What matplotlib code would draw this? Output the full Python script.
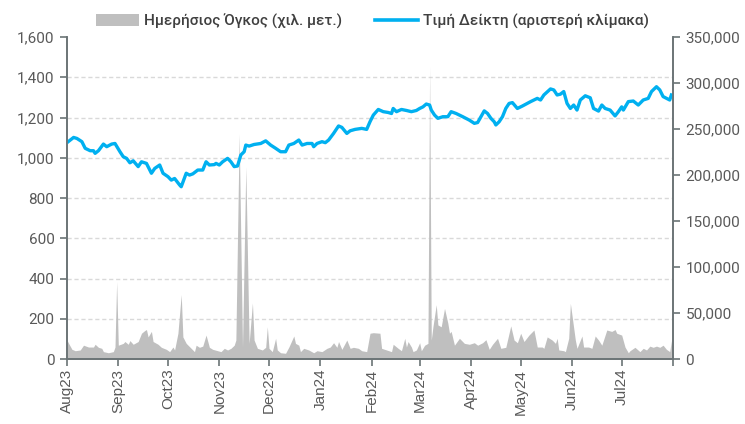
import matplotlib
matplotlib.use('Agg')
import matplotlib.pyplot as plt
import pandas as pd
from matplotlib.lines import Line2D
from matplotlib.patches import Patch
from matplotlib.ticker import FixedLocator, FuncFormatter

# index level (left scale)
idx_dates = [
    '2023-08-01', '2023-08-05', '2023-08-07', '2023-08-10', '2023-08-12', '2023-08-15',
    '2023-08-17', '2023-08-18', '2023-08-20', '2023-08-23', '2023-08-25', '2023-08-28',
    '2023-08-30', '2023-09-02', '2023-09-04', '2023-09-06', '2023-09-08', '2023-09-10',
    '2023-09-13', '2023-09-15', '2023-09-18', '2023-09-21', '2023-09-23', '2023-09-26',
    '2023-09-28', '2023-10-01', '2023-10-03', '2023-10-05', '2023-10-08', '2023-10-09',
    '2023-10-12', '2023-10-14', '2023-10-16', '2023-10-19', '2023-10-22', '2023-10-24',
    '2023-10-26', '2023-10-29', '2023-10-30', '2023-11-01', '2023-11-03', '2023-11-06',
    '2023-11-08', '2023-11-10', '2023-11-12', '2023-11-14', '2023-11-16', '2023-11-17',
    '2023-11-19', '2023-11-22', '2023-11-26', '2023-11-29', '2023-12-02', '2023-12-05',
    '2023-12-08', '2023-12-11', '2023-12-13', '2023-12-16', '2023-12-19', '2023-12-21',
    '2023-12-24', '2023-12-27', '2023-12-28', '2023-12-30', '2024-01-02', '2024-01-04',
    '2024-01-06', '2024-01-09', '2024-01-12', '2024-01-14', '2024-01-17', '2024-01-19',
    '2024-01-22', '2024-01-26', '2024-01-29', '2024-01-31', '2024-02-02', '2024-02-05',
    '2024-02-08', '2024-02-11', '2024-02-13', '2024-02-14', '2024-02-16', '2024-02-19',
    '2024-02-22', '2024-02-25', '2024-02-28', '2024-03-01', '2024-03-03', '2024-03-05',
    '2024-03-07', '2024-03-08', '2024-03-10', '2024-03-12', '2024-03-15', '2024-03-18',
    '2024-03-20', '2024-03-23', '2024-03-27', '2024-03-31', '2024-04-03', '2024-04-05',
    '2024-04-07', '2024-04-09', '2024-04-11', '2024-04-13', '2024-04-15', '2024-04-16',
    '2024-04-18', '2024-04-20', '2024-04-22', '2024-04-24', '2024-04-26', '2024-04-29',
    '2024-05-02', '2024-05-07', '2024-05-11', '2024-05-13', '2024-05-15', '2024-05-19',
    '2024-05-21', '2024-05-23', '2024-05-25', '2024-05-27', '2024-05-29', '2024-05-31',
    '2024-06-02', '2024-06-04', '2024-06-06', '2024-06-09', '2024-06-12', '2024-06-14',
    '2024-06-17', '2024-06-19', '2024-06-21', '2024-06-24', '2024-06-27', '2024-06-29',
    '2024-07-01', '2024-07-02', '2024-07-05', '2024-07-08', '2024-07-11', '2024-07-14',
    '2024-07-17', '2024-07-19', '2024-07-22', '2024-07-24', '2024-07-26', '2024-07-30',
    '2024-07-31',
]
idx_values = [
    1075, 1101, 1096, 1080, 1047, 1035, 1035, 1022, 1035, 1068, 1055, 1068,
    1071, 1030, 1005, 997, 975, 985, 956, 980, 972, 923, 947, 964,
    923, 906, 889, 897, 865, 856, 923, 914, 920, 939, 939, 980,
    964, 966, 972, 964, 980, 997, 980, 956, 959, 1014, 1030, 1063,
    1058, 1066, 1071, 1084, 1063, 1047, 1030, 1030, 1063, 1071, 1088, 1063,
    1071, 1071, 1055, 1071, 1080, 1075, 1088, 1121, 1158, 1151, 1121, 1134,
    1141, 1146, 1141, 1179, 1212, 1240, 1229, 1225, 1220, 1245, 1229, 1240,
    1235, 1229, 1235, 1245, 1253, 1267, 1262, 1237, 1212, 1196, 1204, 1204,
    1229, 1220, 1204, 1187, 1171, 1175, 1204, 1233, 1220, 1196, 1179, 1163,
    1179, 1204, 1245, 1270, 1274, 1245, 1257, 1279, 1295, 1287, 1312, 1342,
    1337, 1312, 1316, 1329, 1270, 1245, 1262, 1237, 1287, 1308, 1298, 1245,
    1232, 1262, 1245, 1237, 1208, 1229, 1253, 1237, 1279, 1282, 1262, 1287,
    1295, 1329, 1353, 1337, 1304, 1287, 1312,
]

# daily volume in thousands (right scale)
vol_dates = [
    '2023-08-01', '2023-08-02', '2023-08-04', '2023-08-06', '2023-08-09', '2023-08-11',
    '2023-08-14', '2023-08-17', '2023-08-18', '2023-08-20', '2023-08-22', '2023-08-23',
    '2023-08-26', '2023-08-29', '2023-08-30', '2023-08-31', '2023-09-01', '2023-09-04',
    '2023-09-05', '2023-09-07', '2023-09-08', '2023-09-10', '2023-09-13', '2023-09-15',
    '2023-09-17', '2023-09-18', '2023-09-19', '2023-09-21', '2023-09-22', '2023-09-25',
    '2023-09-27', '2023-09-30', '2023-10-02', '2023-10-04', '2023-10-05', '2023-10-07',
    '2023-10-09', '2023-10-10', '2023-10-12', '2023-10-15', '2023-10-17', '2023-10-18',
    '2023-10-20', '2023-10-22', '2023-10-24', '2023-10-26', '2023-10-28', '2023-10-31',
    '2023-11-02', '2023-11-04', '2023-11-06', '2023-11-08', '2023-11-10', '2023-11-11',
    '2023-11-13', '2023-11-15', '2023-11-17', '2023-11-19', '2023-11-21', '2023-11-22',
    '2023-11-24', '2023-11-27', '2023-11-29', '2023-11-30', '2023-12-01', '2023-12-03',
    '2023-12-05', '2023-12-06', '2023-12-08', '2023-12-11', '2023-12-13', '2023-12-16',
    '2023-12-17', '2023-12-19', '2023-12-20', '2023-12-22', '2023-12-25', '2023-12-28',
    '2023-12-30', '2024-01-02', '2024-01-05', '2024-01-07', '2024-01-09', '2024-01-11',
    '2024-01-12', '2024-01-14', '2024-01-17', '2024-01-19', '2024-01-21', '2024-01-24',
    '2024-01-26', '2024-01-29', '2024-01-31', '2024-02-02', '2024-02-06', '2024-02-07',
    '2024-02-10', '2024-02-13', '2024-02-14', '2024-02-17', '2024-02-19', '2024-02-21',
    '2024-02-22', '2024-02-23', '2024-02-25', '2024-02-26', '2024-02-28', '2024-03-01',
    '2024-03-02', '2024-03-04', '2024-03-06', '2024-03-07', '2024-03-08', '2024-03-09',
    '2024-03-11', '2024-03-12', '2024-03-14', '2024-03-16', '2024-03-18', '2024-03-19',
    '2024-03-20', '2024-03-22', '2024-03-25', '2024-03-28', '2024-03-31', '2024-04-03',
    '2024-04-05', '2024-04-08', '2024-04-10', '2024-04-12', '2024-04-14', '2024-04-17',
    '2024-04-19', '2024-04-22', '2024-04-25', '2024-04-27', '2024-04-29', '2024-05-01',
    '2024-05-03', '2024-05-06', '2024-05-09', '2024-05-11', '2024-05-14', '2024-05-15',
    '2024-05-17', '2024-05-20', '2024-05-22', '2024-05-23', '2024-05-24', '2024-05-27',
    '2024-05-28', '2024-05-30', '2024-05-31', '2024-06-03', '2024-06-04', '2024-06-07',
    '2024-06-08', '2024-06-11', '2024-06-13', '2024-06-15', '2024-06-17', '2024-06-19',
    '2024-06-22', '2024-06-25', '2024-06-27', '2024-06-28', '2024-07-01', '2024-07-03',
    '2024-07-05', '2024-07-06', '2024-07-09', '2024-07-12', '2024-07-14', '2024-07-16',
    '2024-07-18', '2024-07-20', '2024-07-22', '2024-07-24', '2024-07-26', '2024-07-28',
    '2024-07-30', '2024-07-31',
]
vol_values = [
    20.6, 17, 10.5, 9, 9.8, 15, 13, 13, 16, 12.7, 11.6, 8,
    6.8, 8, 13, 84, 15, 17, 19, 16, 20, 16, 19, 28,
    31, 32, 24, 30, 19, 16, 12.7, 10.5, 8, 13, 9.8, 28,
    70, 24, 17, 11.6, 8, 15, 12.7, 14, 26, 12.7, 10.5, 9,
    8, 11.6, 9.8, 11.6, 15, 20.6, 245, 13, 209, 17, 61, 20.6,
    11.6, 9.8, 12.7, 35, 11.6, 8, 22.5, 9.8, 6.8, 6.2, 13, 25,
    17, 15, 8, 11.6, 9.8, 6.8, 9, 8, 11.6, 13, 17.7, 12.7,
    19, 10.5, 20.6, 11.6, 12.7, 11.6, 9, 8, 28, 28.6, 28, 11.6,
    9.8, 8, 16, 11.6, 9, 22.5, 13, 19, 13, 8, 9.8, 17.7,
    9, 15, 17, 318, 20.6, 35, 59, 37, 35, 55, 39, 28,
    30, 15, 22.5, 17, 16, 17.7, 15, 17.7, 21, 10.5, 16, 22.5,
    11.6, 12.7, 36, 20.6, 17.7, 28, 19, 26, 31.5, 13, 13, 11.6,
    24, 20.6, 17, 22.5, 9.8, 9, 8, 22.5, 60.5, 20.6, 11.6, 25,
    13, 13, 11.6, 25, 20.6, 15, 31.5, 30, 32, 28, 26, 13,
    6.8, 9, 12.7, 8, 11.6, 9.8, 14, 12.7, 14, 12.7, 15, 10.5,
    8, 20,
]

idx_ticks = [0, 200, 400, 600, 800, 1000, 1200, 1400, 1600]
vol_ticks = [0, 50000, 100000, 150000, 200000, 250000, 300000, 350000]
month_ticks = pd.date_range('2023-08-01', '2024-08-01', freq='MS')
month_labels = [d.strftime('%b%y') for d in month_ticks[:-1]] + ['']

line_color = '#00B0F0'
area_color = '#BFBFBF'
spine_color = '#6B7476'
text_color = '#595959'

fig = plt.figure(figsize=(7.45, 4.24), dpi=100)
ax = fig.add_axes([0.0899, 0.1533, 0.8135, 0.7594])
axv = ax.twinx()
ax.set_zorder(axv.get_zorder() + 1)
ax.patch.set_visible(False)

vd = pd.to_datetime(vol_dates)
vv = [v * 1000 for v in vol_values]
axv.fill_between(vd, 0, vv, color=area_color, linewidth=0)
axv.set_ylim(0, 350000)
axv.yaxis.set_major_locator(FixedLocator(vol_ticks))
axv.yaxis.set_major_formatter(FuncFormatter(lambda v, p: f'{v:,.0f}'))
# gridlines at the left-scale ticks, drawn behind the area
axv.yaxis.set_minor_locator(FixedLocator([t * 350000 / 1600 for t in idx_ticks[1:]]))
axv.grid(which='minor', axis='y', linestyle=(0, (3, 2)), color='#D9D9D9', linewidth=1)
axv.set_axisbelow(True)
axv.tick_params(axis='y', which='minor', length=0)

ax.plot(pd.to_datetime(idx_dates), idx_values, color=line_color, linewidth=2.4,
        solid_joinstyle='round')
ax.set_ylim(0, 1600)
ax.yaxis.set_major_locator(FixedLocator(idx_ticks))
ax.yaxis.set_major_formatter(FuncFormatter(lambda v, p: f'{v:,.0f}'))
ax.set_xlim(pd.Timestamp('2023-08-01'), pd.Timestamp('2024-08-01'))
ax.set_xticks(month_ticks)
ax.set_xticklabels(month_labels, rotation=90, fontfamily='Liberation Sans',
                   fontsize=11, color=text_color)

for a in (ax, axv):
    for s in a.spines.values():
        s.set_color(spine_color)
        s.set_linewidth(1.2)
    a.spines['top'].set_visible(False)
ax.tick_params(axis='x', length=5, width=1.2, color=spine_color, pad=2)
ax.tick_params(axis='y', length=5, width=1.2, color=spine_color, labelsize=11,
               labelcolor=text_color, pad=4)
axv.tick_params(axis='y', which='major', length=5, width=1.2, color=spine_color,
                labelsize=11, labelcolor=text_color, pad=4)
for lab in ax.get_yticklabels() + axv.get_yticklabels():
    lab.set_fontfamily('Roboto')

handles = [Patch(facecolor=area_color, edgecolor='none'),
           Line2D([0], [0], color=line_color, linewidth=2.6)]
labels = ['Ημερήσιος Όγκος (χιλ. μετ.)', 'Τιμή Δείκτη (αριστερή κλίμακα)']
fig.legend(handles, labels, loc='upper center', bbox_to_anchor=(0.5, 1.0), ncol=2,
           frameon=False, handlelength=2.8, handleheight=0.8, columnspacing=2.2,
           handletextpad=0.3, prop={'family': 'Roboto', 'size': 11, 'weight': 'medium'},
           labelcolor='#404040')

fig.savefig('out.png', dpi=100)
